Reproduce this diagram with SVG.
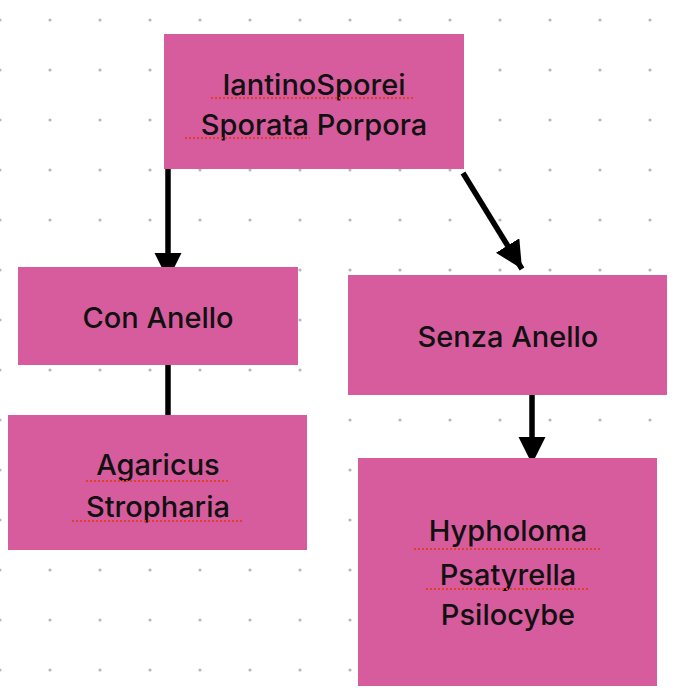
<svg xmlns="http://www.w3.org/2000/svg" width="692" height="696" viewBox="0 0 692 696">
<defs>
<pattern id="dots" x="0" y="20" width="50" height="50" patternUnits="userSpaceOnUse"><circle cx="0" cy="0" r="1.6" fill="#b8b8b8"/><circle cx="50" cy="0" r="1.6" fill="#b8b8b8"/><circle cx="0" cy="50" r="1.6" fill="#b8b8b8"/><circle cx="50" cy="50" r="1.6" fill="#b8b8b8"/></pattern>
<marker id="ah" viewBox="0 0 10 10" refX="10" refY="5" markerWidth="5" markerHeight="5" markerUnits="strokeWidth" orient="auto"><path d="M0,0 L10,5 L0,10 z" fill="#000"/></marker>
<style>
.box{fill:#d75c9e}
.t{font-family:Inter,"Liberation Sans",sans-serif;font-size:29px;font-weight:500;fill:#111;text-anchor:middle}
.c{stroke:#000;stroke-width:5.5;fill:none}
.sp{stroke:#e0402a;stroke-width:2;stroke-dasharray:2 2;fill:none}
</style>
</defs>
<rect width="692" height="696" fill="#fff"/>
<rect width="692" height="696" fill="url(#dots)"/>
<g id="connectors">
<line class="c" x1="168" y1="160" x2="168" y2="280" marker-end="url(#ah)"/>
<line class="c" x1="463" y1="173" x2="522" y2="269" marker-end="url(#ah)"/>
<line class="c" x1="168" y1="345" x2="168" y2="442" marker-end="url(#ah)"/>
<line class="c" x1="532" y1="373" x2="532" y2="464" marker-end="url(#ah)"/>
</g>
<g id="n-root"><rect class="box" x="164" y="34" width="300" height="135"/>
<text class="t" x="314" y="95">IantinoSporei</text><text class="t" x="314" y="135">Sporata Porpora</text>
<path class="sp" d="M211 98H415M185 138H310"/></g>
<g id="n-con"><rect class="box" x="18" y="267" width="280" height="98"/>
<text class="t" x="158" y="328">Con Anello</text></g>
<g id="n-senza"><rect class="box" x="348" y="275" width="319" height="120"/>
<text class="t" x="508" y="347">Senza Anello</text></g>
<g id="n-agaricus"><rect class="box" x="8" y="415" width="299" height="135"/>
<text class="t" x="158" y="475">Agaricus</text><text class="t" x="158" y="517">Stropharia</text>
<path class="sp" d="M86 481H230M72 521H244"/></g>
<g id="n-hypho"><rect class="box" x="358" y="458" width="299" height="228"/>
<text class="t" x="508" y="541">Hypholoma</text><text class="t" x="508" y="585">Psatyrella</text><text class="t" x="508" y="625">Psilocybe</text>
<path class="sp" d="M414 549H602M426 589H588"/></g>
</svg>
